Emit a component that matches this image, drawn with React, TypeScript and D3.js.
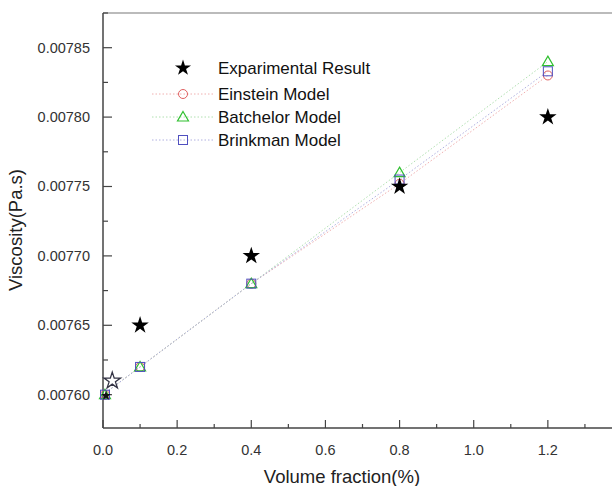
import React, { useEffect, useRef } from "react";
import * as d3 from "d3";

// values
const expX = [0.0, 0.025, 0.1, 0.4, 0.8, 1.2];
const expY = [0.0076, 0.00761, 0.00765, 0.0077, 0.00775, 0.0078];

const modelX = [0.0, 0.025, 0.1, 0.4, 0.8, 1.2];
const einsteinY = [0.0076, 0.007605, 0.00762, 0.00768, 0.007752, 0.00783];
const batchelorY = [0.0076, 0.007605, 0.00762, 0.00768, 0.00776, 0.00784];
const brinkmanY = [0.0076, 0.007605, 0.00762, 0.00768, 0.007755, 0.007833];

const xTicks = [0, 0.2, 0.4, 0.6, 0.8, 1.0, 1.2];
const yTicks = [0.0076, 0.00765, 0.0077, 0.00775, 0.0078, 0.00785];

const legendLabels = ["Exparimental Result", "Einstein Model", "Batchelor Model", "Brinkman Model"];

const App = () => {
  const svgRef = useRef<SVGSVGElement>(null);

  useEffect(() => {
    const width = 612;
    const left = 103;
    const top = 13;
    const bottom = 428;

    const svg = d3.select(svgRef.current);
    svg.selectAll("*").remove();

    const x = d3.scaleLinear().domain([0, 1.4]).range([left, left + 519]);
    const y = d3.scaleLinear().domain([0.007576, 0.007875]).range([bottom, top]);

    const font = "Arial, 'Liberation Sans', sans-serif";
    const axisColor = "#444";

    // top frame line (light)
    svg.append("line")
      .attr("x1", left).attr("x2", width)
      .attr("y1", top).attr("y2", top)
      .attr("stroke", "#bbb").attr("stroke-width", 2);

    // axes lines
    svg.append("line")
      .attr("x1", left).attr("x2", left)
      .attr("y1", top).attr("y2", bottom)
      .attr("stroke", axisColor).attr("stroke-width", 1.5);
    svg.append("line")
      .attr("x1", left).attr("x2", width)
      .attr("y1", bottom).attr("y2", bottom)
      .attr("stroke", axisColor).attr("stroke-width", 1.5);

    // x ticks (inside)
    d3.range(0, 1.45, 0.1).forEach((v, i) => {
      const major = i % 2 === 0;
      svg.append("line")
        .attr("x1", x(v)).attr("x2", x(v))
        .attr("y1", bottom).attr("y2", bottom - (major ? 8 : 4))
        .attr("stroke", axisColor).attr("stroke-width", 1.2);
    });
    xTicks.forEach((v) => {
      svg.append("text")
        .attr("x", x(v)).attr("y", bottom + 27)
        .attr("text-anchor", "middle")
        .attr("font-family", font).attr("font-size", 14.5)
        .attr("fill", "#333")
        .text(v.toFixed(1));
    });

    // y ticks (inside)
    d3.range(0, 12).forEach((i) => {
      const v = 0.0076 + i * 0.000025;
      if (y(v) < top) return;
      const major = i % 2 === 0;
      svg.append("line")
        .attr("x1", left).attr("x2", left + (major ? 9 : 5))
        .attr("y1", y(v)).attr("y2", y(v))
        .attr("stroke", axisColor).attr("stroke-width", 1.2);
    });
    yTicks.forEach((v) => {
      svg.append("text")
        .attr("x", left - 13).attr("y", y(v) + 5)
        .attr("text-anchor", "end")
        .attr("font-family", font).attr("font-size", 14.5)
        .attr("fill", "#333")
        .text(v.toFixed(5));
    });

    // axis titles
    svg.append("text")
      .attr("x", 342).attr("y", 483)
      .attr("text-anchor", "middle")
      .attr("font-family", font).attr("font-size", 18.5)
      .attr("fill", "#222")
      .text("Volume fraction(%)");
    svg.append("text")
      .attr("transform", "translate(22,230) rotate(-90)")
      .attr("text-anchor", "middle")
      .attr("font-family", font).attr("font-size", 18.5)
      .attr("fill", "#222")
      .text("Viscosity(Pa.s)");

    const models = [
      { ys: einsteinY, color: "#e06060", line: "#f0b0b0", shape: "circle" },
      { ys: batchelorY, color: "#30c030", line: "#b0e0b0", shape: "triangle" },
      { ys: brinkmanY, color: "#5050c0", line: "#b0b0e0", shape: "square" },
    ];

    const drawMarker = (g: any, shape: string, cx: number, cy: number, color: string) => {
      if (shape === "circle") {
        g.append("circle").attr("cx", cx).attr("cy", cy).attr("r", 4.5)
          .attr("fill", "none").attr("stroke", color).attr("stroke-width", 1);
      } else if (shape === "triangle") {
        g.append("path")
          .attr("d", `M${cx},${cy - 5.5}L${cx + 5.5},${cy + 4}L${cx - 5.5},${cy + 4}Z`)
          .attr("fill", "none").attr("stroke", color).attr("stroke-width", 1.2);
      } else if (shape === "square") {
        g.append("rect").attr("x", cx - 4.5).attr("y", cy - 4.5)
          .attr("width", 9).attr("height", 9)
          .attr("fill", "none").attr("stroke", color).attr("stroke-width", 1);
      } else {
        g.append("path")
          .attr("d", d3.symbol(d3.symbolStar, 80)())
          .attr("transform", `translate(${cx},${cy})`)
          .attr("fill", color);
      }
    };

    const lineGen = d3.line<number>()
      .x((_, i) => x(modelX[i]))
      .y((d) => y(d));

    models.forEach((m) => {
      svg.append("path")
        .attr("d", lineGen(m.ys))
        .attr("fill", "none")
        .attr("stroke", m.line)
        .attr("stroke-width", 1)
        .attr("stroke-dasharray", "1.5,2");
    });

    models.forEach((m) => {
      m.ys.forEach((v, i) => {
        if (modelX[i] === 0.025) return;
        drawMarker(svg, m.shape, x(modelX[i]) + (modelX[i] === 0 ? 2 : 0), y(v), m.color);
      });
    });

    // experimental stars
    expX.forEach((v, i) => {
      if (v === 0.025) {
        svg.append("path")
          .attr("d", d3.symbol(d3.symbolStar, 85)())
          .attr("transform", `translate(${x(v)},${y(expY[i])})`)
          .attr("fill", "white").attr("stroke", "#334").attr("stroke-width", 1.3);
      } else if (v === 0) {
        svg.append("path")
          .attr("d", d3.symbol(d3.symbolStar, 30)())
          .attr("transform", `translate(${x(v) + 3},${y(expY[i]) + 1})`)
          .attr("fill", "#111");
      } else {
        svg.append("path")
          .attr("d", d3.symbol(d3.symbolStar, 95)())
          .attr("transform", `translate(${x(v)},${y(expY[i])})`)
          .attr("fill", "#000");
      }
    });

    // legend
    const legendY = [68, 94, 117, 140];
    legendLabels.forEach((label, i) => {
      const ly = legendY[i];
      if (i > 0) {
        const m = models[i - 1];
        svg.append("line")
          .attr("x1", 152).attr("x2", 214)
          .attr("y1", ly).attr("y2", ly)
          .attr("stroke", m.line).attr("stroke-width", 1)
          .attr("stroke-dasharray", "1.5,2");
        drawMarker(svg, m.shape, 183, ly, m.color);
      } else {
        drawMarker(svg, "star", 183, ly, "#000");
      }
      svg.append("text")
        .attr("x", 218).attr("y", ly + 6)
        .attr("font-family", font).attr("font-size", 17)
        .attr("fill", "#111")
        .text(label);
    });
  }, []);

  return (
    <svg
      ref={svgRef}
      width={612}
      height={486}
      style={{ position: "absolute", left: 0, top: 0, background: "#fff" }}
    ></svg>
  );
};

export default App;
